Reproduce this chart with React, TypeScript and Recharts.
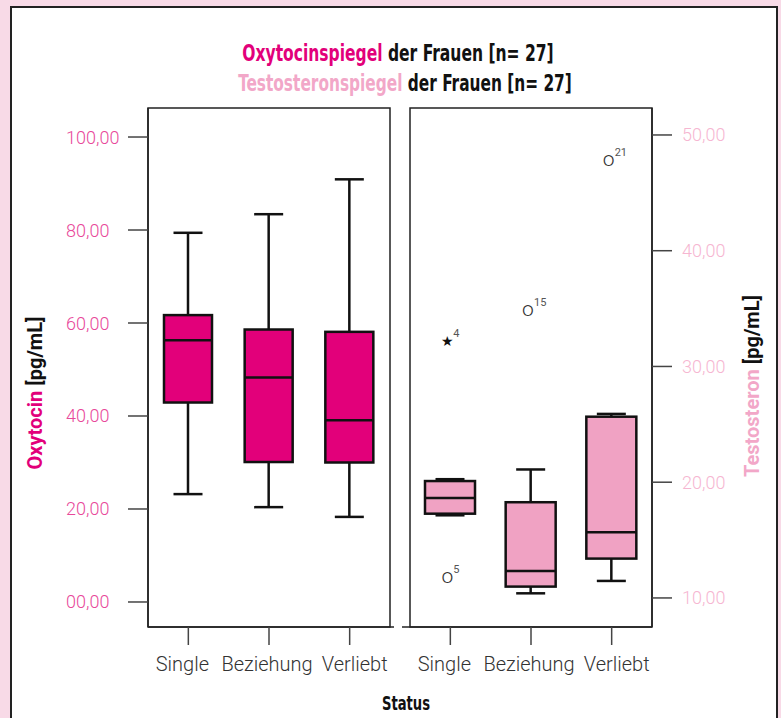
import React from 'react';
import { ComposedChart, Bar, Scatter, XAxis, YAxis, ReferenceArea } from 'recharts';

const categories = ['Single', 'Beziehung', 'Verliebt'];

const oxyMin = [23.2, 20.4, 18.3];
const oxyQ1 = [42.9, 30.1, 30.0];
const oxyMedian = [56.3, 48.3, 39.1];
const oxyQ3 = [61.7, 58.6, 58.1];
const oxyMax = [79.4, 83.4, 90.9];

const testoMin = [17.14, 10.4, 11.47];
const testoQ1 = [17.28, 10.98, 13.4];
const testoMedian = [18.64, 12.33, 15.67];
const testoQ3 = [20.1, 18.27, 25.66];
const testoMax = [20.26, 21.1, 25.9];

const testoOutlierCats = ['Single', 'Single', 'Beziehung', 'Verliebt'];
const testoOutlierValues = [32.2, 11.84, 34.9, 47.8];
const testoOutlierIds = ['4', '5', '15', '21'];
const testoOutlierKinds = ['extreme', 'outlier', 'outlier', 'outlier'];

const oxyTicks = [0, 20, 40, 60, 80, 100];
const testoTicks = [10, 20, 30, 40, 50];

const OXY_DOMAIN = [-5.38, 106.24];
const TESTO_DOMAIN = [7.49, 52.33];

const MAGENTA = '#E2007A';
const LIGHT = '#F0A2C3';
const LIGHT_TEXT = '#F2A7C8';
const OXY_TICK = '#E8489A';
const TESTO_TICK = '#F6B6D1';
const FONT = 'Roboto, "DejaVu Sans", sans-serif';
const NARROW = '"Liberation Sans Narrow", "Arial Narrow", "DejaVu Sans Condensed", Roboto, sans-serif';

const buildRows = (mins: number[], q1: number[], med: number[], q3: number[], maxs: number[]) =>
  categories.map((cat, i) => ({
    cat,
    range: [mins[i], maxs[i]],
    min: mins[i],
    q1: q1[i],
    median: med[i],
    q3: q3[i],
    max: maxs[i],
  }));

const oxyData = buildRows(oxyMin, oxyQ1, oxyMedian, oxyQ3, oxyMax);
const testoData = buildRows(testoMin, testoQ1, testoMedian, testoQ3, testoMax);
const testoOutliers = testoOutlierCats.map((cat, i) => ({
  cat,
  value: testoOutlierValues[i],
  id: testoOutlierIds[i],
  kind: testoOutlierKinds[i],
}));

const fmt = (v: number) => String(v).padStart(2, '0') + ',00';

const makeBoxShape = (fill: string, capWidth: number) => (props: any) => {
  const { x, y, width, height, payload } = props;
  if (!payload) return null;
  const top = Math.min(y, y + height);
  const bottom = Math.max(y, y + height);
  const lo = payload.min;
  const hi = payload.max;
  const px = (v: number) => bottom - ((v - lo) / (hi - lo)) * (bottom - top);
  const cx = x + width / 2;
  const yq1 = px(payload.q1);
  const yq3 = px(payload.q3);
  const ymed = px(payload.median);
  const sw = 2.5;
  return (
    <g>
      <line x1={cx} x2={cx} y1={top} y2={yq3} stroke="#111" strokeWidth={sw} />
      <line x1={cx} x2={cx} y1={yq1} y2={bottom} stroke="#111" strokeWidth={sw} />
      <line x1={cx - capWidth / 2} x2={cx + capWidth / 2} y1={top} y2={top} stroke="#111" strokeWidth={sw} />
      <line x1={cx - capWidth / 2} x2={cx + capWidth / 2} y1={bottom} y2={bottom} stroke="#111" strokeWidth={sw} />
      <rect x={x} y={yq3} width={width} height={yq1 - yq3} fill={fill} stroke="#111" strokeWidth={sw} />
      <line x1={x} x2={x + width} y1={ymed} y2={ymed} stroke="#111" strokeWidth={sw} />
    </g>
  );
};

const OutlierShape = (props: any) => {
  const { cx, cy, payload } = props;
  if (cx == null || cy == null || !payload) return null;
  const gx = cx - 3;
  return (
    <g>
      {payload.kind === 'extreme' ? (
        <text x={gx} y={cy} textAnchor="middle" dominantBaseline="central" fontSize={14} fill="#111" fontFamily='"DejaVu Sans", sans-serif'>★</text>
      ) : (
        <text x={gx} y={cy - 1} textAnchor="middle" dominantBaseline="central" fontSize={21} fill="#333" fontFamily={FONT} fontWeight={300}>o</text>
      )}
      <text x={gx + 6} y={cy - 4} textAnchor="start" fontSize={11} fill="#555" fontFamily={FONT}>{payload.id}</text>
    </g>
  );
};

const LeftTick = (props: any) => {
  const { x, y, payload } = props;
  return (
    <text x={x - 55} y={y} textAnchor="start" dominantBaseline="central" fontSize={18} fill={OXY_TICK} fontFamily={FONT} fontWeight={300}>
      {fmt(payload.value)}
    </text>
  );
};

const RightTick = (props: any) => {
  const { x, y, payload } = props;
  return (
    <text x={x} y={y} textAnchor="start" dominantBaseline="central" fontSize={18} fill={TESTO_TICK} fontFamily={FONT} fontWeight={300}>
      {fmt(payload.value)}
    </text>
  );
};

const catShift = [-6, -2, 5];
const CatTick = (props: any) => {
  const { x, y, payload, index } = props;
  const i = typeof index === 'number' ? index : categories.indexOf(payload.value);
  return (
    <text x={x + (catShift[i] || 0)} y={y + 3} textAnchor="middle" dominantBaseline="hanging" fontSize={20} fill="#333" fontFamily={FONT} fontWeight={300}>
      {payload.value}
    </text>
  );
};

const lineStyle = { stroke: '#222', strokeWidth: 1.5 };
const tickLineStyle = { stroke: '#444', strokeWidth: 1.5 };

export default function App() {
  return (
    <div style={{ position: 'absolute', left: 0, top: 0, width: 781, height: 718, background: '#F8DAE7', overflow: 'hidden', fontFamily: FONT }}>
      <div style={{ position: 'absolute', left: 10, top: 6, width: 768, height: 740, background: '#fff', border: '2px solid #222', boxSizing: 'border-box' }} />

      <div style={{ position: 'absolute', left: 20, top: 90 }}>
        <ComposedChart width={378} height={600} data={oxyData} margin={{ top: 18, right: 4, bottom: 13, left: 0 }}>
          <XAxis xAxisId="b" dataKey="cat" height={50} tickSize={18} tickMargin={8} padding={{ left: 0, right: 4 }} axisLine={lineStyle} tickLine={tickLineStyle} tick={<CatTick />} interval={0} />
          <YAxis yAxisId="l" width={128} domain={OXY_DOMAIN} allowDataOverflow ticks={oxyTicks} tickSize={20} tickMargin={7} axisLine={lineStyle} tickLine={tickLineStyle} tick={<LeftTick />} interval={0} />
          <ReferenceArea xAxisId="b" yAxisId="l" y1={OXY_DOMAIN[0]} y2={OXY_DOMAIN[1]} fill="none" fillOpacity={0} stroke="#222" strokeWidth={1.5} ifOverflow="visible" />
          <Bar xAxisId="b" yAxisId="l" dataKey="range" barSize={48} isAnimationActive={false} shape={makeBoxShape(MAGENTA, 29)} />
        </ComposedChart>
      </div>

      <div style={{ position: 'absolute', left: 398, top: 90 }}>
        <ComposedChart width={334} height={600} data={testoData} margin={{ top: 18, right: 0, bottom: 13, left: 4 }}>
          <XAxis xAxisId="b" dataKey="cat" height={50} tickSize={18} tickMargin={8} padding={{ left: 8, right: 0 }} allowDuplicatedCategory={false} axisLine={lineStyle} tickLine={tickLineStyle} tick={<CatTick />} interval={0} />
          <YAxis yAxisId="r" orientation="right" width={80} domain={TESTO_DOMAIN} allowDataOverflow ticks={testoTicks} tickSize={20} tickMargin={10} axisLine={lineStyle} tickLine={tickLineStyle} tick={<RightTick />} interval={0} />
          <ReferenceArea xAxisId="b" yAxisId="r" y1={TESTO_DOMAIN[0]} y2={TESTO_DOMAIN[1]} fill="none" fillOpacity={0} stroke="#222" strokeWidth={1.5} ifOverflow="visible" />
          <Bar xAxisId="b" yAxisId="r" dataKey="range" barSize={50} isAnimationActive={false} shape={makeBoxShape(LIGHT, 29)} />
          <Scatter xAxisId="b" yAxisId="r" data={testoOutliers} dataKey="value" isAnimationActive={false} shape={<OutlierShape />} />
        </ComposedChart>
      </div>

      <svg width={781} height={718} style={{ position: 'absolute', left: 0, top: 0, pointerEvents: 'none' }}>
        <g transform="translate(398,61) scale(0.768,1)">
          <text x={0} y={0} textAnchor="middle" fontSize={22.5} fontWeight={700} fontFamily={NARROW}>
            <tspan fill={MAGENTA}>Oxytocinspiegel</tspan>
            <tspan fill="#111"> der Frauen [n= 27]</tspan>
          </text>
        </g>
        <g transform="translate(405,91) scale(0.76,1)">
          <text x={0} y={0} textAnchor="middle" fontSize={22.5} fontWeight={700} fontFamily={NARROW}>
            <tspan fill={LIGHT_TEXT}>Testosteronspiegel</tspan>
            <tspan fill="#111"> der Frauen [n= 27]</tspan>
          </text>
        </g>

        <text transform="translate(35,393) rotate(-90)" textAnchor="middle" dominantBaseline="central" fontSize={20} fontWeight={700} fontFamily={FONT}>
          <tspan fill={MAGENTA}>Oxytocin</tspan>
          <tspan fill="#111"> [pg/mL]</tspan>
        </text>
        <text transform="translate(752,386) rotate(-90)" textAnchor="middle" dominantBaseline="central" fontSize={20} fontWeight={700} fontFamily={FONT}>
          <tspan fill={LIGHT_TEXT}>Testosteron</tspan>
          <tspan fill="#111"> [pg/mL]</tspan>
        </text>

        <g transform="translate(406,710) scale(0.77,1)">
          <text x={0} y={0} textAnchor="middle" fontSize={19} fontWeight={700} fill="#111" fontFamily={NARROW}>Status</text>
        </g>
      </svg>
    </div>
  );
}
